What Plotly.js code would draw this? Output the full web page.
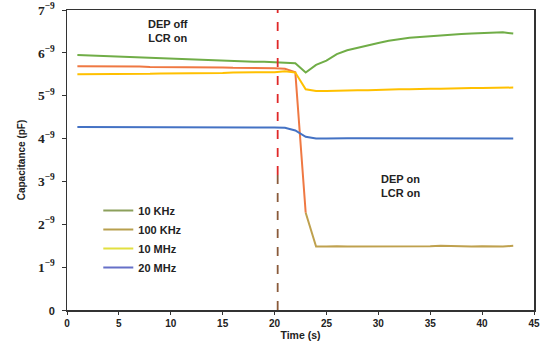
<!DOCTYPE html>
<html>
<head>
<meta charset="utf-8">
<script src="https://cdn.plot.ly/plotly-3.0.1.min.js"></script>
<style>html,body{margin:0;padding:0;background:#fff;}#chart{width:550px;height:349px;}</style>
</head>
<body>
<div id="chart"></div>
<script>
// Time (s)
var time = [1,2,3,4,5,6,7,8,9,10,11,12,13,14,15,16,17,18,19,20,21,22,23,24,25,26,27,28,29,30,31,32,33,34,35,36,37,38,39,40,41,42,43];
// Capacitance (pF, shown as n^-9)
var khz10 = [5.95,5.94,5.93,5.92,5.91,5.90,5.89,5.88,5.87,5.86,5.85,5.85,5.84,5.83,5.82,5.81,5.80,5.79,5.79,5.78,5.77,5.76,5.54,5.72,5.82,5.97,6.06,6.12,6.17,6.23,6.28,6.32,6.35,6.37,6.39,6.41,6.43,6.44,6.45,6.46,6.47,6.48,6.45];
var khz100 = [5.69,5.69,5.69,5.68,5.68,5.68,5.68,5.67,5.67,5.67,5.67,5.66,5.66,5.66,5.66,5.65,5.65,5.65,5.64,5.64,5.63,5.55,2.27,1.48,1.48,1.49,1.48,1.48,1.49,1.49,1.48,1.48,1.49,1.49,1.49,1.50,1.49,1.49,1.48,1.49,1.49,1.48,1.50];
var mhz10 = [5.50,5.50,5.50,5.50,5.51,5.51,5.51,5.51,5.52,5.52,5.52,5.52,5.53,5.53,5.53,5.54,5.54,5.54,5.55,5.55,5.57,5.54,5.15,5.11,5.11,5.12,5.12,5.13,5.13,5.14,5.14,5.15,5.15,5.16,5.16,5.16,5.17,5.17,5.18,5.18,5.18,5.19,5.19];
var mhz20 = [4.27,4.27,4.27,4.27,4.27,4.27,4.26,4.26,4.26,4.26,4.26,4.26,4.26,4.26,4.26,4.26,4.26,4.26,4.26,4.26,4.25,4.19,4.04,4.00,4.00,4.01,4.01,4.01,4.01,4.01,4.01,4.01,4.01,4.01,4.01,4.01,4.01,4.01,4.01,4.01,4.01,4.01,4.00];
var seriesNames = ['10 KHz','100 KHz','10 MHz','20 MHz'];
var yTickVals = [0,1,2,3,4,5,6,7];
var yTickText = ['<span style="font-family:Arial,Liberation Sans;font-size:11px">0</span>','1<sup>−9</sup>','2<sup>−9</sup>','3<sup>−9</sup>','4<sup>−9</sup>','5<sup>−9</sup>','6<sup>−9</sup>','7<sup>−9</sup>'];
var xTickVals = [0,5,10,15,20,25,30,35,40,45];
var depTime = 20.3;

var lineCol = ['#70AD47','#EF7842','#FFC000','#4472C4'];
var legCol = ['#8CA05C','#B8A04E','#E2E040','#6670C8'];
var lowCol = '#BFA14E';

var traces = [
  {x: time, y: khz10, mode:'lines', line:{color:lineCol[0], width:2}, showlegend:false},
  {x: time.slice(0,23), y: khz100.slice(0,23), mode:'lines', line:{color:lineCol[1], width:2}, showlegend:false},
  {x: time.slice(22), y: khz100.slice(22), mode:'lines', line:{color:lowCol, width:2}, showlegend:false},
  {x: time, y: mhz10, mode:'lines', line:{color:lineCol[2], width:2}, showlegend:false},
  {x: time, y: mhz20, mode:'lines', line:{color:lineCol[3], width:2}, showlegend:false}
];
for (var i=0;i<seriesNames.length;i++){
  traces.push({x:[null], y:[null], mode:'lines', name:seriesNames[i], line:{color:legCol[i], width:2}, showlegend:true});
}

var layout = {
  width:550, height:349,
  margin:{l:67, r:16, t:10, b:39},
  paper_bgcolor:'#fff', plot_bgcolor:'#fff',
  font:{family:'Arial, Liberation Sans, sans-serif', color:'#222'},
  xaxis:{range:[0,45], tickvals:xTickVals, showgrid:false, zeroline:false, showline:true, mirror:true,
         linecolor:'#333', linewidth:1.5, ticks:'outside', ticklen:3, tickcolor:'#333',
         tickfont:{size:10, family:'Arial, Liberation Sans, sans-serif', weight:'bold', color:'#222'},
         title:{text:'<b>Time (s)</b>', font:{size:10.5, color:'#222'}, standoff:4}},
  yaxis:{range:[0,7], tickvals:yTickVals, ticktext:yTickText, showgrid:false, zeroline:false, showline:true, mirror:true,
         linecolor:'#333', linewidth:1.5, ticks:'outside', ticklen:4, tickcolor:'#333', ticklabelstandoff:4,
         tickfont:{size:13.5, family:'Liberation Serif, DejaVu Serif, serif', weight:'bold', color:'#222'},
         title:{text:'<b>Capacitance (pF)</b>', font:{size:10, color:'#222'}, standoff:10}},
  legend:{x:0.067, xanchor:'left', y:0.38, yanchor:'top', bgcolor:'rgba(0,0,0,0)', tracegroupgap:0,
          font:{size:11, family:'Arial, Liberation Sans, sans-serif', weight:'bold', color:'#222'}},
  shapes:[
    {type:'line', xref:'x', yref:'y', x0:depTime, x1:depTime, y0:3.15, y1:7, line:{color:'#E02828', width:1.8, dash:'dash'}},
    {type:'line', xref:'x', yref:'y', x0:depTime, x1:depTime, y0:0, y1:3.15, line:{color:'#8A5A3A', width:1.8, dash:'dash'}}
  ],
  annotations:[
    {x:9.7, y:6.51, xref:'x', yref:'y', text:'<b>DEP off<br>LCR on</b>', showarrow:false, font:{size:11, color:'#222'}},
    {x:32.1, y:2.89, xref:'x', yref:'y', text:'<b>DEP on<br>LCR on</b>', showarrow:false, font:{size:11, color:'#222'}}
  ]
};
Plotly.newPlot('chart', traces, layout, {staticPlot:true, displayModeBar:false});
</script>
</body>
</html>
